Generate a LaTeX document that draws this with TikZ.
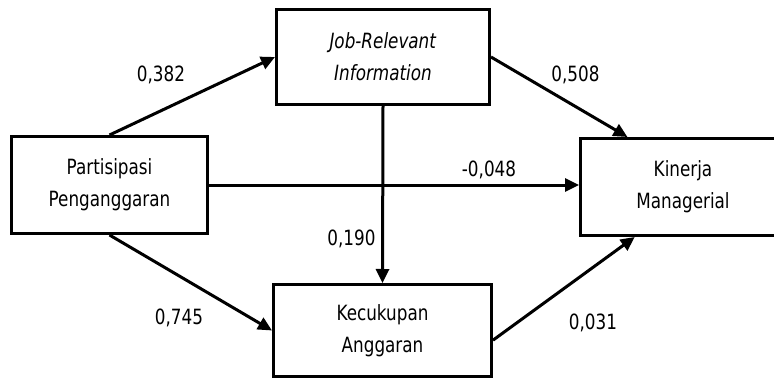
\documentclass[tikz,border=0pt]{standalone}
\usepackage{fontspec}
\setmainfont{DejaVu Sans}[FakeStretch=0.8]
\usetikzlibrary{arrows.meta}

\begin{document}
\begin{tikzpicture}[x=1pt, y=-1pt, line width=3pt,
		main/.style = {draw, align=center, inner sep=0pt, font=\fontsize{21}{32}\selectfont},
		coef/.style = {anchor=base, inner sep=0pt, font=\fontsize{21}{24}\selectfont},
		path/.style = {-{Triangle[length=14pt, width=13pt]}}]
		\useasboundingbox (0,0) rectangle (774,380);
		\node[main, minimum width=213pt, minimum height=95pt] (jri) at (383,57) {\textit{Job-Relevant}\\\textit{Information}};
		\node[main, minimum width=196pt, minimum height=97pt] (ppg) at (109.5,185) {Partisipasi\\Penganggaran};
		\node[main, minimum width=205pt, minimum height=97pt] (km) at (683,187) {Kinerja\\Managerial};
		\node[main, minimum width=218pt, minimum height=92pt] (kca) at (382.5,330.5) {Kecukupan\\Anggaran};
		\draw[path] (ppg.north) -- (jri.west);
		\draw[path] (jri.east) -- (km.138);
		\draw[path] (ppg.east) -- (ppg.east -| km.west);
		\draw[path] (jri.south) -- (kca.north);
		\draw[path] (ppg.south) -- (kca.west);
		\draw[path] (kca.-5) -- (km.-134);
		\node[coef] (c1) at (161,81.5) {0,382};
		\node[coef] (c2) at (575.5,81.5) {0,508};
		\node[coef] (c3) at (489,176.5) {-0,048};
		\node[coef] (c4) at (351.5,245.5) {0,190};
		\node[coef] (c5) at (179,324.5) {0,745};
		\node[coef] (c6) at (593,329.5) {0,031};
	\end{tikzpicture}
\end{document}
